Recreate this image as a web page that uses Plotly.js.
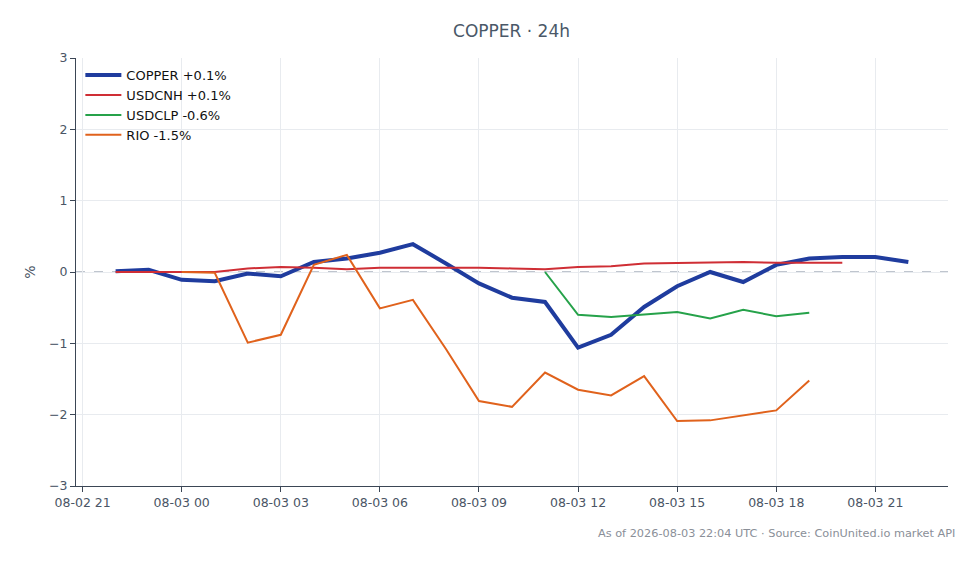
<!DOCTYPE html>
<html>
<head>
<meta charset="utf-8">
<script src="https://cdn.plot.ly/plotly-3.0.1.min.js"></script>
<style>
  html, body { margin: 0; padding: 0; background: #fff; }
  #chart { width: 980px; height: 564px; }
</style>
</head>
<body>
<div id="chart"></div>
<script>
// hourly % change, 24h window
const copperTimes = [
    "2026-08-02 22:00", "2026-08-02 23:00", "2026-08-03 00:00", "2026-08-03 01:00",
    "2026-08-03 02:00", "2026-08-03 03:00", "2026-08-03 04:00", "2026-08-03 05:00",
    "2026-08-03 06:00", "2026-08-03 07:00", "2026-08-03 08:00", "2026-08-03 09:00",
    "2026-08-03 10:00", "2026-08-03 11:00", "2026-08-03 12:00", "2026-08-03 13:00",
    "2026-08-03 14:00", "2026-08-03 15:00", "2026-08-03 16:00", "2026-08-03 17:00",
    "2026-08-03 18:00", "2026-08-03 19:00", "2026-08-03 20:00", "2026-08-03 21:00",
    "2026-08-03 22:00"
];
const copperVals = [0.01, 0.03, -0.11, -0.13, -0.02, -0.06, 0.14, 0.19, 0.27, 0.39, 0.12, -0.16,
    -0.36, -0.42, -1.06, -0.88, -0.49, -0.20, 0.00, -0.14, 0.10, 0.19, 0.21, 0.21, 0.14];

const usdcnhTimes = copperTimes.slice(0, 23);
const usdcnhVals = [0.00, 0.00, 0.00, 0.00, 0.05, 0.07, 0.06, 0.04, 0.06, 0.06, 0.07, 0.06,
    0.05, 0.04, 0.07, 0.08, 0.12, 0.13, 0.14, 0.14, 0.13, 0.13, 0.13];

const usdclpTimes = copperTimes.slice(13, 22);
const usdclpVals = [0.00, -0.60, -0.63, -0.59, -0.56, -0.65, -0.53, -0.62, -0.57];

const rioTimes = copperTimes.slice(2, 22);
const rioVals = [0.00, -0.01, -0.99, -0.88, 0.10, 0.24, -0.51, -0.39, -1.08, -1.81,
    -1.89, -1.41, -1.65, -1.73, -1.46, -2.09, -2.08, -2.01, -1.94, -1.52];

const seriesNames = ["COPPER +0.1%", "USDCNH +0.1%", "USDCLP -0.6%", "RIO -1.5%"];
const seriesColors = ["#1f3c9e", "#cf2e35", "#26a24a", "#e0621c"];

const axisColor = "#3b4655";
const tickColor = "#4a5565";

const line = (x, y, i, w) => ({
    x: x, y: y, name: seriesNames[i], type: "scatter", mode: "lines",
    line: { color: seriesColors[i], width: w }
});

const data = [
    line(copperTimes, copperVals, 0, 4),
    line(usdcnhTimes, usdcnhVals, 1, 2),
    line(usdclpTimes, usdclpVals, 2, 2),
    line(rioTimes, rioVals, 3, 2)
];

const layout = {
    width: 980, height: 564,
    margin: { l: 76, r: 32, t: 58, b: 78 },
    paper_bgcolor: "#fff",
    plot_bgcolor: "#fff",
    font: { family: "DejaVu Sans, sans-serif", color: tickColor, size: 12 },
    title: { text: "COPPER · 24h", x: 0.522, xanchor: "center", y: 0.956,
             font: { size: 17, color: "#4a5868" } },
    showlegend: true,
    legend: { x: 0.005, y: 0.995, xanchor: "left", yanchor: "top",
              itemwidth: 36, tracegroupgap: 0,
              bgcolor: "rgba(255,255,255,0)", font: { size: 13, color: "#111" } },
    xaxis: {
        type: "date",
        range: ["2026-08-02 20:48", "2026-08-03 23:12"],
        dtick: 10800000,
        tickformat: "%m-%d %H",
        showgrid: true, gridcolor: "#e8ebef",
        showline: true, linecolor: axisColor, linewidth: 1,
        ticks: "outside", ticklen: 5, tickcolor: axisColor,
        tickfont: { size: 12.5, color: tickColor },
        zeroline: false
    },
    yaxis: {
        range: [-3, 3], dtick: 1,
        title: { text: "%", font: { size: 14, color: tickColor }, standoff: 10 },
        showgrid: true, gridcolor: "#e8ebef",
        showline: true, linecolor: axisColor, linewidth: 1,
        ticks: "outside", ticklen: 5, tickcolor: axisColor,
        tickfont: { size: 12.5, color: tickColor },
        zeroline: false
    },
    shapes: [{
        type: "line", xref: "paper", x0: 0, x1: 1, yref: "y", y0: 0, y1: 0,
        line: { color: "#7f8a9c", width: 1, dash: "dash" }, layer: "below"
    }],
    annotations: [{
        text: "As of 2026-08-03 22:04 UTC · Source: CoinUnited.io market API",
        xref: "paper", yref: "paper", x: 1.01, y: -0.111,
        xanchor: "right", yanchor: "middle", showarrow: false,
        font: { size: 11.3, color: "#8a8f98" }
    }]
};

Plotly.newPlot("chart", data, layout, { displayModeBar: false, staticPlot: true });
</script>
</body>
</html>
